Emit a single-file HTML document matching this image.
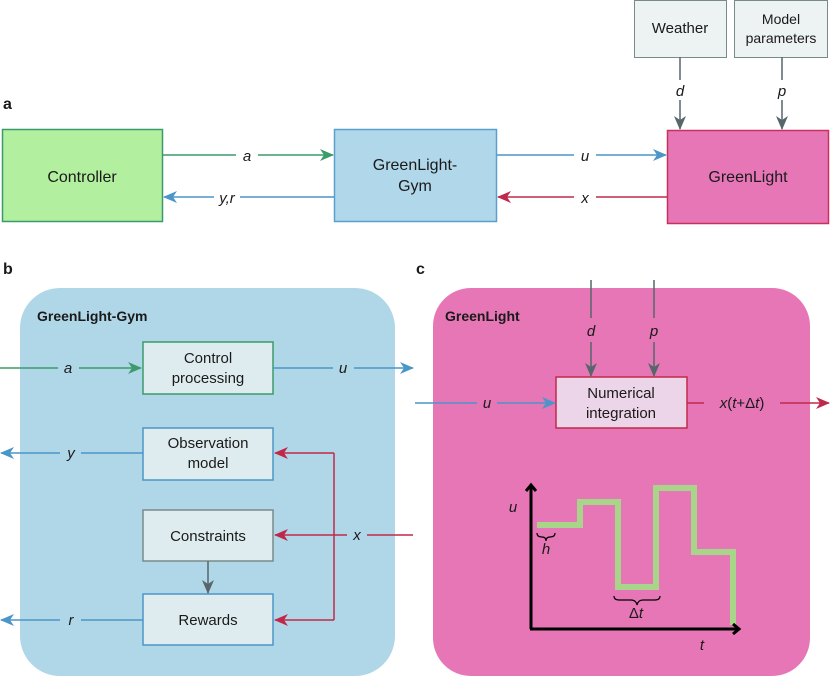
<!DOCTYPE html>
<html><head><meta charset="utf-8"><style>
html,body{margin:0;padding:0;background:#fff}
svg{display:block;font-family:"Liberation Sans",sans-serif}
</style></head><body>
<svg width="830" height="678" viewBox="0 0 830 678" xmlns="http://www.w3.org/2000/svg">
<defs>
<marker id="ag" markerWidth="14" markerHeight="14" refX="13" refY="7" orient="auto" markerUnits="userSpaceOnUse"><path d="M0,1 L14,7 L0,13 L4,7z" fill="#3b9b6b"/></marker>
<marker id="ab" markerWidth="14" markerHeight="14" refX="13" refY="7" orient="auto" markerUnits="userSpaceOnUse"><path d="M0,1 L14,7 L0,13 L4,7z" fill="#4a96c8"/></marker>
<marker id="ar" markerWidth="14" markerHeight="14" refX="13" refY="7" orient="auto" markerUnits="userSpaceOnUse"><path d="M0,1 L14,7 L0,13 L4,7z" fill="#c0284a"/></marker>
<marker id="ak" markerWidth="14" markerHeight="14" refX="13" refY="7" orient="auto" markerUnits="userSpaceOnUse"><path d="M0,1 L14,7 L0,13 L4,7z" fill="#56666a"/></marker>
<marker id="aK" markerWidth="12" markerHeight="12" refX="6" refY="6" orient="auto" markerUnits="userSpaceOnUse"><path d="M1,1 L7,6 L1,11" fill="none" stroke="#000" stroke-width="3"/></marker>
</defs>
<g font-size="15" fill="#1a1a1a">
<!-- Panel a -->
<rect x="634.5" y="0.5" width="92" height="57" fill="#edf2f2" stroke="#7a8a8c"/>
<text x="680" y="33" text-anchor="middle">Weather</text>
<rect x="734.5" y="0.5" width="93" height="57" fill="#edf2f2" stroke="#7a8a8c"/>
<text x="781" y="24" text-anchor="middle" font-size="14">Model</text>
<text x="781" y="43" text-anchor="middle" font-size="14">parameters</text>
<line x1="680" y1="57" x2="680" y2="80" stroke="#56666a" stroke-width="1.5"/>
<line x1="680" y1="100" x2="680" y2="129" stroke="#56666a" stroke-width="1.5" marker-end="url(#ak)"/>
<text x="680" y="96" text-anchor="middle" font-style="italic">d</text>
<line x1="782" y1="57" x2="782" y2="80" stroke="#56666a" stroke-width="1.5"/>
<line x1="782" y1="100" x2="782" y2="129" stroke="#56666a" stroke-width="1.5" marker-end="url(#ak)"/>
<text x="782" y="96" text-anchor="middle" font-style="italic">p</text>
<text x="3" y="109" font-weight="bold" font-size="16">a</text>
<rect x="2.5" y="129.5" width="160" height="92" fill="#b2f0a0" stroke="#3b9b6b" stroke-width="1.5"/>
<text x="82" y="182" text-anchor="middle" font-size="16">Controller</text>
<rect x="334.5" y="129.5" width="162" height="92" fill="#b1d8ea" stroke="#5aa0cf" stroke-width="1.5"/>
<text x="415" y="170" text-anchor="middle" font-size="16">GreenLight-</text>
<text x="415" y="191" text-anchor="middle" font-size="16">Gym</text>
<rect x="667.5" y="130.5" width="161" height="93" fill="#e776b7" stroke="#c8325a" stroke-width="1.5"/>
<text x="748" y="182" text-anchor="middle" font-size="16">GreenLight</text>
<line x1="163" y1="155" x2="236" y2="155" stroke="#3b9b6b" stroke-width="1.5"/>
<line x1="258" y1="155" x2="333" y2="155" stroke="#3b9b6b" stroke-width="1.5" marker-end="url(#ag)"/>
<text x="247" y="161" text-anchor="middle" font-style="italic">a</text>
<line x1="334" y1="197" x2="240" y2="197" stroke="#4a96c8" stroke-width="1.5"/>
<line x1="214" y1="197" x2="164" y2="197" stroke="#4a96c8" stroke-width="1.5" marker-end="url(#ab)"/>
<text x="227" y="203" text-anchor="middle" font-style="italic">y,r</text>
<line x1="497" y1="155" x2="574" y2="155" stroke="#4a96c8" stroke-width="1.5"/>
<line x1="596" y1="155" x2="666" y2="155" stroke="#4a96c8" stroke-width="1.5" marker-end="url(#ab)"/>
<text x="585" y="161" text-anchor="middle" font-style="italic">u</text>
<line x1="667" y1="197" x2="596" y2="197" stroke="#c0284a" stroke-width="1.5"/>
<line x1="574" y1="197" x2="498" y2="197" stroke="#c0284a" stroke-width="1.5" marker-end="url(#ar)"/>
<text x="585" y="203" text-anchor="middle" font-style="italic">x</text>

<!-- Panel b -->
<text x="3" y="274" font-weight="bold" font-size="16">b</text>
<rect x="20" y="288" width="375" height="388" rx="40" fill="#b0d7e8"/>
<text x="37" y="321" font-weight="bold" font-size="14">GreenLight-Gym</text>
<rect x="143" y="342" width="130" height="52" fill="#deecf0" stroke="#3b9b6b" stroke-width="1.5"/>
<text x="208" y="363" text-anchor="middle">Control</text>
<text x="208" y="383" text-anchor="middle">processing</text>
<rect x="143" y="428" width="130" height="52" fill="#deecf0" stroke="#4a96c8" stroke-width="1.5"/>
<text x="208" y="448" text-anchor="middle">Observation</text>
<text x="208" y="468" text-anchor="middle">model</text>
<rect x="143" y="510" width="130" height="51" fill="#deecf0" stroke="#7a8a8c" stroke-width="1.5"/>
<text x="208" y="541" text-anchor="middle">Constraints</text>
<rect x="143" y="594" width="130" height="51" fill="#deecf0" stroke="#4a96c8" stroke-width="1.5"/>
<text x="208" y="625" text-anchor="middle">Rewards</text>
<line x1="0" y1="368" x2="58" y2="368" stroke="#3b9b6b" stroke-width="1.5"/>
<line x1="79" y1="368" x2="141" y2="368" stroke="#3b9b6b" stroke-width="1.5" marker-end="url(#ag)"/>
<text x="68" y="373" text-anchor="middle" font-style="italic">a</text>
<line x1="273" y1="368" x2="333" y2="368" stroke="#4a96c8" stroke-width="1.5"/>
<line x1="354" y1="368" x2="413" y2="368" stroke="#4a96c8" stroke-width="1.5" marker-end="url(#ab)"/>
<text x="343" y="373" text-anchor="middle" font-style="italic">u</text>
<line x1="143" y1="453" x2="81" y2="453" stroke="#4a96c8" stroke-width="1.5"/>
<line x1="60" y1="453" x2="1" y2="453" stroke="#4a96c8" stroke-width="1.5" marker-end="url(#ab)"/>
<text x="71" y="458" text-anchor="middle" font-style="italic">y</text>
<line x1="143" y1="620" x2="81" y2="620" stroke="#4a96c8" stroke-width="1.5"/>
<line x1="60" y1="620" x2="1" y2="620" stroke="#4a96c8" stroke-width="1.5" marker-end="url(#ab)"/>
<text x="71" y="625" text-anchor="middle" font-style="italic">r</text>
<line x1="208" y1="561" x2="208" y2="593" stroke="#56666a" stroke-width="1.5" marker-end="url(#ak)"/>
<line x1="413" y1="535" x2="367" y2="535" stroke="#c0284a" stroke-width="1.5"/>
<line x1="347" y1="535" x2="275" y2="535" stroke="#c0284a" stroke-width="1.5" marker-end="url(#ar)"/>
<text x="357" y="540" text-anchor="middle" font-style="italic">x</text>
<polyline points="334,453 334,620" fill="none" stroke="#c0284a" stroke-width="1.5"/>
<line x1="334" y1="453" x2="275" y2="453" stroke="#c0284a" stroke-width="1.5" marker-end="url(#ar)"/>
<line x1="334" y1="620" x2="275" y2="620" stroke="#c0284a" stroke-width="1.5" marker-end="url(#ar)"/>

<!-- Panel c -->
<text x="416" y="274" font-weight="bold" font-size="16">c</text>
<rect x="433" y="288" width="377" height="388" rx="38" fill="#e676b6"/>
<text x="445" y="321" font-weight="bold" font-size="14">GreenLight</text>
<line x1="591" y1="280" x2="591" y2="318" stroke="#56666a" stroke-width="1.5"/>
<line x1="591" y1="342" x2="591" y2="376" stroke="#56666a" stroke-width="1.5" marker-end="url(#ak)"/>
<text x="591" y="336" text-anchor="middle" font-style="italic">d</text>
<line x1="654" y1="280" x2="654" y2="318" stroke="#56666a" stroke-width="1.5"/>
<line x1="654" y1="342" x2="654" y2="376" stroke="#56666a" stroke-width="1.5" marker-end="url(#ak)"/>
<text x="654" y="336" text-anchor="middle" font-style="italic">p</text>
<rect x="556" y="377" width="131" height="51" fill="#ecd5e8" stroke="#c42a4a" stroke-width="1.5"/>
<text x="621" y="398" text-anchor="middle">Numerical</text>
<text x="621" y="418" text-anchor="middle">integration</text>
<line x1="415" y1="403" x2="477" y2="403" stroke="#4a96c8" stroke-width="1.5"/>
<line x1="497" y1="403" x2="555" y2="403" stroke="#4a96c8" stroke-width="1.5" marker-end="url(#ab)"/>
<text x="487" y="408" text-anchor="middle" font-style="italic">u</text>
<line x1="687" y1="403" x2="704" y2="403" stroke="#c0284a" stroke-width="1.5"/>
<line x1="780" y1="403" x2="829" y2="403" stroke="#c0284a" stroke-width="1.5" marker-end="url(#ar)"/>
<text x="742" y="408" text-anchor="middle"><tspan font-style="italic">x</tspan>(<tspan font-style="italic">t</tspan>+Δ<tspan font-style="italic">t</tspan>)</text>
<polyline points="537,525 580,525 580,502 618,502 618,587 656,587 656,488 694,488 694,552 733,552 733,625" fill="none" stroke="#a8d58a" stroke-width="6"/>
<line x1="531" y1="629" x2="531" y2="486" stroke="#000" stroke-width="3" marker-end="url(#aK)"/>
<line x1="530" y1="629" x2="738" y2="629" stroke="#000" stroke-width="3" marker-end="url(#aK)"/>
<text x="513" y="512" text-anchor="middle" font-style="italic">u</text>
<text x="702" y="650" text-anchor="middle" font-style="italic">t</text>
<path d="M537,533 q0,4 5,4 q4,0 4,4 q0,-4 4,-4 q5,0 5,-4" fill="none" stroke="#000" stroke-width="1.2"/>
<text x="546" y="554" text-anchor="middle" font-style="italic">h</text>
<path d="M614,596 q0,4 5,4 h12 q5,0 6,5 q1,-5 6,-5 h12 q5,0 5,-4" fill="none" stroke="#000" stroke-width="1.2"/>
<text x="636" y="618" text-anchor="middle">Δ<tspan font-style="italic">t</tspan></text>
</g>
</svg>
</body></html>
